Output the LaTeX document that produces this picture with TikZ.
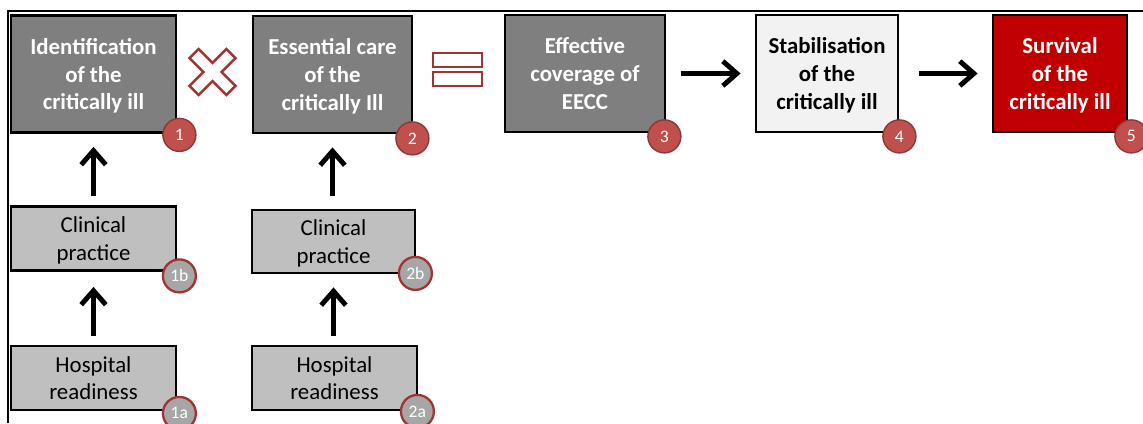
\documentclass[tikz,border=0pt]{standalone}
\usepackage{fontspec}
\setmainfont{Carlito}
\usetikzlibrary{arrows.meta, positioning, calc}
\definecolor{boxgrey}{RGB}{127, 127, 127}
\definecolor{lightgrey}{RGB}{191, 191, 191}
\definecolor{palegrey}{RGB}{242, 242, 242}
\definecolor{survred}{RGB}{192, 0, 0}
\definecolor{badgered}{RGB}{192, 80, 77}
\definecolor{badgeline}{RGB}{140, 56, 54}
\definecolor{badgegrey}{RGB}{166, 166, 166}
\definecolor{signred}{RGB}{160, 52, 50}

\tikzset{
  bigbox/.style={draw, line width=1.6pt, fill=boxgrey, text=white, align=center,
    minimum height=2.34cm, font=\fontsize{13}{15.9}\selectfont\bfseries, text depth=0pt},
  smallbox/.style={draw, line width=1.6pt, fill=lightgrey, align=center,
    minimum width=3.3cm, minimum height=1.28cm, font=\fontsize{13}{15.6}\selectfont, text depth=0pt},
  badge/.style={circle, draw=badgeline, line width=0.8pt, fill=badgered, text=white,
    minimum size=0.66cm, inner sep=0pt, font=\fontsize{10}{10}\selectfont},
  greybadge/.style={badge, draw=signred, line width=1.3pt, fill=badgegrey},
  flow/.style={-{Straight Barb[length=8pt, width=14pt]}, line width=2.8pt},
  sign/.style={draw=signred, line width=1.4pt, fill=white}
}

\begin{document}
\begin{tikzpicture}[x=0.02cm, y=-0.02cm]
  \useasboundingbox (0,0) rectangle (1143,423);

  % frame lines
  \draw[line width=0.9pt] (8,423) -- (8,11) -- (1143,11);

  % Top row
  \node[bigbox, minimum width=3.3cm] (ident) at (93.5,74) {Identification\\of the\\critically ill};
  \node[bigbox, minimum width=3.18cm] (care) at (332.5,74.5) {Essential care\\of the\\critically Ill};
  \node[bigbox, minimum width=3.2cm] (eecc) at (585,73.5) {Effective\\coverage of\\EECC};
  \node[bigbox, minimum width=2.84cm, fill=palegrey, text=black] (stab) at (827,73.5) {Stabilisation\\of the\\critically ill};
  \node[bigbox, minimum width=2.68cm, fill=survred] (surv) at (1060,73.5) {Survival\\of the\\critically ill};

  % Badges
  \node[badge] (n1) at ([shift={(2,1)}]ident.south east) {1};
  \node[badge] (n2) at ([shift={(-1,4)}]care.south east) {2};
  \node[badge] (n3) at ([shift={(-2,3)}]eecc.south east) {3};
  \node[badge] (n4) at ([shift={(0,3)}]stab.south east) {4};
  \node[badge] (n5) at ([shift={(3,3)}]surv.south east) {5};

  % Multiply sign
  \begin{scope}[shift={(212.5,72)}, rotate=45]
    \draw[sign] (-26,-6.5) -- (-6.5,-6.5) -- (-6.5,-26) -- (6.5,-26) -- (6.5,-6.5) -- (26,-6.5)
      -- (26,6.5) -- (6.5,6.5) -- (6.5,26) -- (-6.5,26) -- (-6.5,6.5) -- (-26,6.5) -- cycle;
  \end{scope}

  % Equals sign
  \draw[sign] (433,53) rectangle (482,67);
  \draw[sign] (433,72) rectangle (482,86);

  % Forward arrows
  \draw[flow, shorten <=0.3cm, shorten >=0.28cm] (eecc) -- (stab);
  \draw[flow, shorten <=0.4cm, shorten >=0.28cm] (stab) -- (surv);

  % Lower boxes
  \node[smallbox] (clin1) at (93.5,238.5) {Clinical\\practice};
  \node[smallbox] (hosp1) at (93.5,378) {Hospital\\readiness};
  \node[smallbox, minimum width=3.26cm, minimum height=1.26cm] (clin2) at (333.5,241.5) {Clinical\\practice};
  \node[smallbox] (hosp2) at (334.5,378) {Hospital\\readiness};

  \node[greybadge] (n1b) at ([shift={(2,4)}]clin1.south east) {1b};
  \node[greybadge] (n1a) at ([shift={(2,2)}]hosp1.south east) {1a};
  \node[greybadge] (n2b) at ([shift={(-1,-1)}]clin2.south east) {2b};
  \node[greybadge] (n2a) at ([shift={(-1,0)}]hosp2.south east) {2a};

  % Upward arrows
  \draw[flow, shorten <=0.18cm, shorten >=0.26cm] (clin1.north -| ident.south) -- (ident.south);
  \draw[flow, shorten <=0.18cm, shorten >=0.3cm] (hosp1.north) -- (clin1.south);
  \draw[flow, shorten <=0.26cm, shorten >=0.26cm] (clin2.north -| care.south) -- (care.south);
  \draw[flow, shorten <=0.18cm, shorten >=0.26cm] (hosp2.north -| clin2.south) -- (clin2.south);
\end{tikzpicture}
\end{document}
